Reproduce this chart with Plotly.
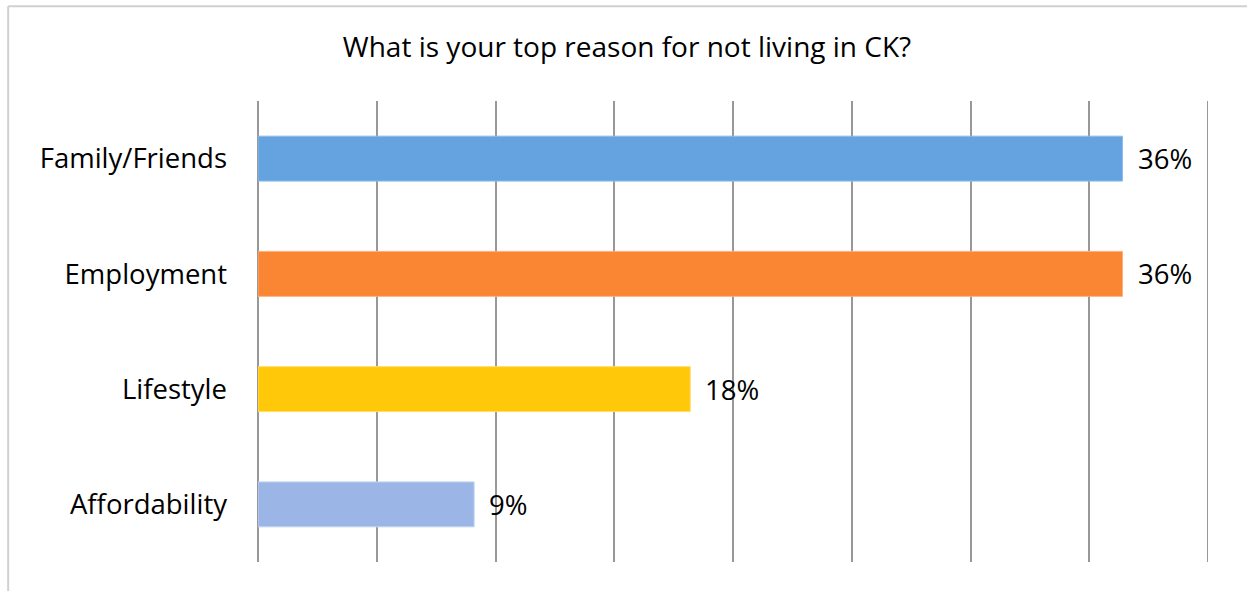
import plotly.graph_objects as go

# Survey responses: top reason for not living in CK
reasons = ["Family/Friends", "Employment", "Lifestyle", "Affordability"]
shares = [0.364, 0.364, 0.182, 0.091]
bar_colors = ["#64A3DF", "#FA8533", "#FFC90A", "#9BB6E6"]
edge_colors = ["#8DBDEA", "#FDB07A", "#FFDD6A", "#C2D3F0"]
x_ticks = [0.0, 0.05, 0.10, 0.15, 0.20, 0.25, 0.30, 0.35, 0.40]

FONT = "Open Sans"
FSIZE = 27.5

fig = go.Figure(
    go.Bar(
        y=reasons,
        x=shares,
        orientation="h",
        marker=dict(color=bar_colors, line=dict(color=edge_colors, width=1)),
        width=0.39,
        hoverinfo="skip",
    )
)

# Percentage labels just past the end of each bar
for r, v in zip(reasons, shares):
    fig.add_annotation(
        x=v, y=r, xref="x", yref="y",
        text=f"{v:.0%}", showarrow=False,
        xanchor="left", xshift=13,
        font=dict(family=FONT, size=FSIZE, color="#000000"),
    )

# Gridline on the far edge of the value axis
fig.add_shape(type="line", xref="x", yref="paper",
              x0=x_ticks[-1], x1=x_ticks[-1], y0=0, y1=1,
              line=dict(color="#989898", width=2), layer="below")

# Light frame around the chart area
fig.add_shape(type="line", xref="paper", yref="paper",
              x0=-0.263, x1=1.05, y0=1.2058, y1=1.2058,
              line=dict(color="#D0D0D0", width=2), layer="below")
fig.add_shape(type="line", xref="paper", yref="paper",
              x0=-0.263, x1=-0.263, y0=1.2058, y1=-0.07,
              line=dict(color="#D0D0D0", width=2), layer="below")

fig.update_layout(
    width=1247, height=591,
    margin=dict(l=258, r=39, t=101, b=29),
    paper_bgcolor="white", plot_bgcolor="white",
    showlegend=False,
    title=dict(
        text="What is your top reason for not living in CK?",
        x=627 / 1247, xanchor="center", xref="container",
        y=1 - 47 / 591, yref="container", yanchor="middle",
        font=dict(family=FONT, size=28, color="#000000"),
    ),
    xaxis=dict(
        range=[0, 0.40], tickvals=x_ticks, showticklabels=False,
        showgrid=True, gridcolor="#989898", gridwidth=2,
        zeroline=True, zerolinecolor="#989898", zerolinewidth=2,
        showline=False, fixedrange=True,
    ),
    yaxis=dict(
        categoryorder="array", categoryarray=reasons[::-1],
        showgrid=False, zeroline=False, showline=False,
        ticks="", ticklabelstandoff=30,
        tickfont=dict(family=FONT, size=FSIZE, color="#000000"),
    ),
)

fig.write_html("out.html")
